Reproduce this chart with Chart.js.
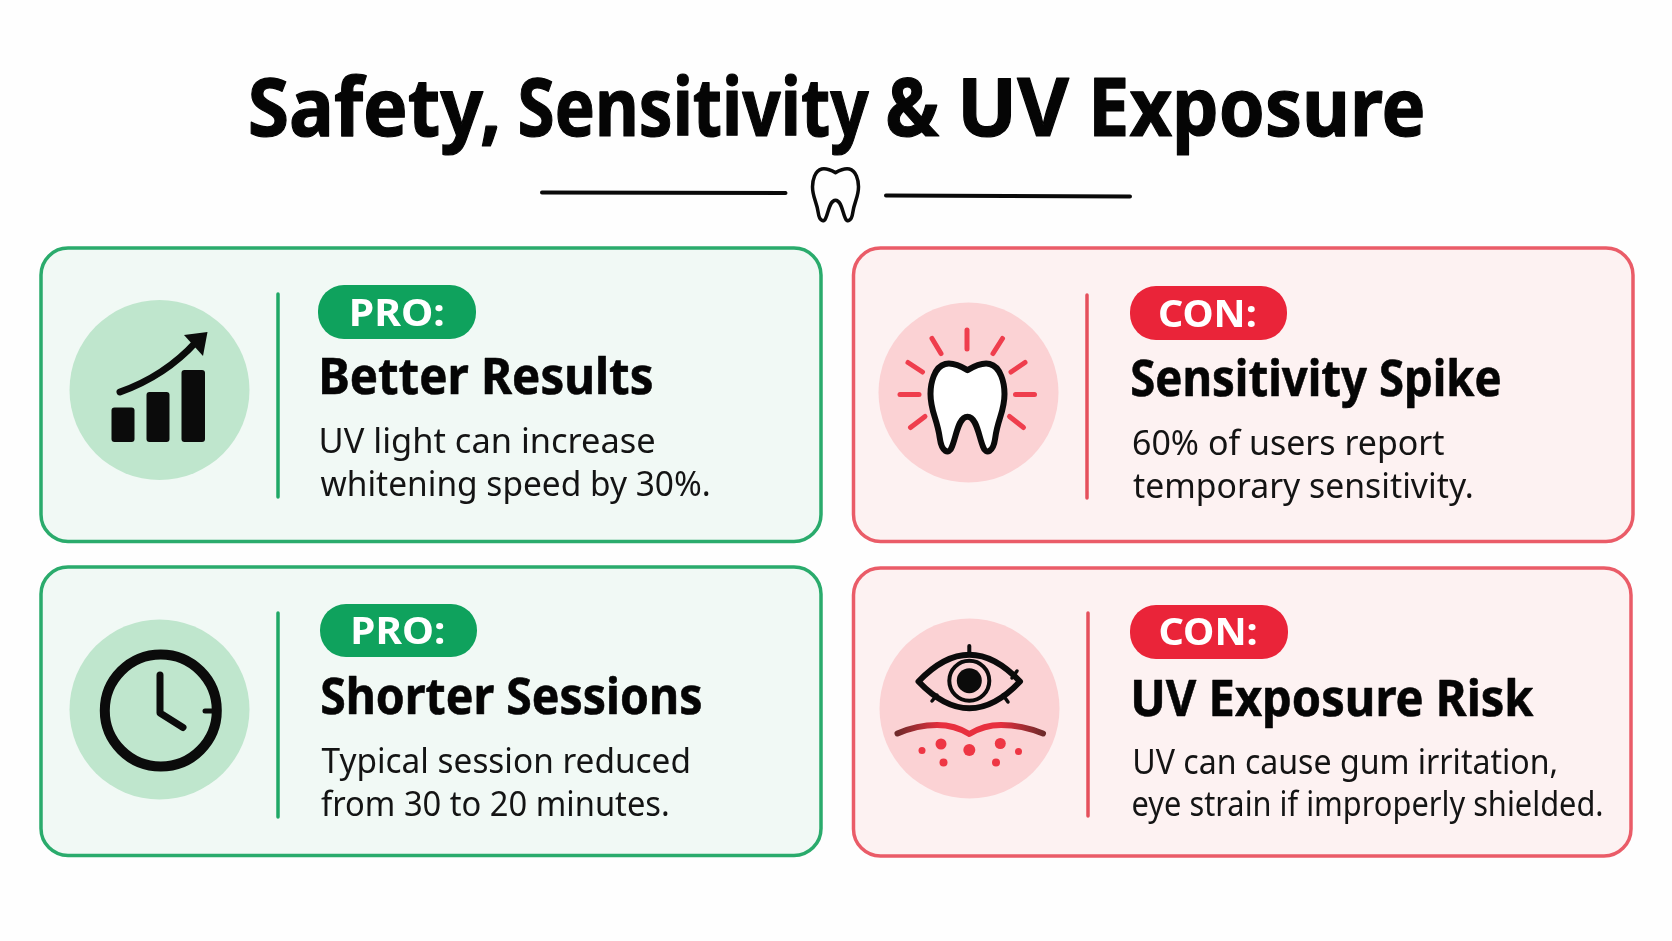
<!DOCTYPE html>
<html>
<head>
<meta charset="utf-8">
<title>Safety, Sensitivity & UV Exposure</title>
<script src="https://cdn.jsdelivr.net/npm/chart.js@4"></script>
<style>
  html, body { margin: 0; padding: 0; background: #fefefe; }
  canvas { display: block; }
</style>
</head>
<body>
<canvas id="infoChart" width="1672" height="941"></canvas>
<script>
// Content
const titleWords = ['Safety,', 'Sensitivity', '&', 'UV', 'Exposure'];
const badges = ['PRO:', 'CON:', 'PRO:', 'CON:'];
const headings = ['Better Results', 'Sensitivity Spike', 'Shorter Sessions', 'UV Exposure Risk'];
const speedGainPct = 30;
const usersReportingPct = 60;
const sessionMinutes = [30, 20];
const bodyLines = [
    ['UV light can increase', `whitening speed by ${speedGainPct}%.`],
    [`${usersReportingPct}% of users report`, 'temporary sensitivity.'],
    ['Typical session reduced', `from ${sessionMinutes[0]} to ${sessionMinutes[1]} minutes.`],
    ['UV can cause gum irritation,', 'eye strain if improperly shielded.']
];

// Layout, one entry per card
const GREEN = { stroke: '#2aab6c', fill: '#f1f9f5', disc: '#bfe6cd', badge: '#0fa25d', rule: '#1fa866' };
const RED = { stroke: '#ea5c68', fill: '#fdf2f2', disc: '#fbd2d4', badge: '#ea2439', rule: '#e5505c' };
const cardStyles = [GREEN, RED, GREEN, RED];
const titleInk = [[250.5, 497], [520, 869], [888, 939], [963, 1069], [1094.5, 1423]];
const cardBoxes = [[41, 248, 821, 541.5], [853.5, 248, 1633, 541.5], [41, 567, 821, 855.5], [853.5, 568, 1631, 856]];
const discCenters = [[159.5, 390], [968.5, 392.5], [159.5, 709.5], [969.5, 708.5]];
const ruleLines = [[278, 294, 497], [1087, 295, 498], [278, 613, 817], [1088, 613, 816]];
const badgeBoxes = [[318, 285, 476, 339], [1130, 286, 1287, 340], [320, 604, 477, 657], [1130, 605, 1288, 659]];
const badgeInk = [[352, 443, 325.5], [1160, 1255, 326.5], [353.5, 443.5, 644], [1160.5, 1256, 645]];
const headingInk = [[322, 651.5, 394], [1132, 1500, 395.5], [322, 700.5, 713.5], [1134, 1533.5, 715.5]];
const bodyInk = [
    [[321.5, 654, 452.5], [320.5, 708.5, 495.5]],
    [[1133, 1444, 454.5], [1133, 1471.5, 497.5]],
    [[321.5, 688.5, 773], [321, 667.5, 816]],
    [[1135, 1556, 774], [1132.5, 1601.5, 816]]
];

const SANS = '"Noto Sans", "Open Sans", sans-serif';

// squeeze or stretch text so its ink spans x0..x1
function fitText(ctx, text, x0, x1, baseline, font, color, boldWidth) {
    ctx.save();
    ctx.font = font;
    ctx.fillStyle = color;
    ctx.textAlign = 'left';
    ctx.textBaseline = 'alphabetic';
    const m = ctx.measureText(text);
    const sx = (x1 - x0) / (m.actualBoundingBoxLeft + m.actualBoundingBoxRight);
    ctx.translate(x0 + m.actualBoundingBoxLeft * sx, baseline);
    ctx.scale(sx, 1);
    ctx.fillText(text, 0, 0);
    if (boldWidth) {
        ctx.lineWidth = boldWidth;
        ctx.lineJoin = 'round';
        ctx.strokeStyle = color;
        ctx.strokeText(text, 0, 0);
    }
    ctx.restore();
}

function strokeSegment(ctx, x0, y0, x1, y1, width, color) {
    ctx.beginPath();
    ctx.moveTo(x0, y0);
    ctx.lineTo(x1, y1);
    ctx.lineWidth = width;
    ctx.strokeStyle = color;
    ctx.lineCap = 'round';
    ctx.stroke();
}

// tooth outline, cx = centre, halfW = half width, top + height in pixels
function toothPath(ctx, cx, top, halfW, height) {
    const X = v => cx + v * halfW;
    const Y = v => top + v * height;
    const curve = (a, b, c, d, e, f) => ctx.bezierCurveTo(X(a), Y(b), X(c), Y(d), X(e), Y(f));
    ctx.beginPath();
    ctx.moveTo(X(0), Y(0.07));
    curve(-0.2, 0.02, -0.4, -0.02, -0.6, 0);
    curve(-0.9, 0.03, -1, 0.22, -1, 0.34);
    curve(-1, 0.54, -0.82, 0.62, -0.75, 0.84);
    curve(-0.7, 1.0, -0.5, 1.04, -0.42, 0.94);
    curve(-0.3, 0.82, -0.25, 0.6, 0, 0.6);
    curve(0.25, 0.6, 0.3, 0.82, 0.42, 0.94);
    curve(0.5, 1.04, 0.7, 1.0, 0.75, 0.84);
    curve(0.82, 0.62, 1, 0.54, 1, 0.34);
    curve(1, 0.22, 0.9, 0.03, 0.6, 0);
    curve(0.4, -0.02, 0.2, 0.02, 0, 0.07);
    ctx.closePath();
}

function drawBarsIcon(ctx) {
    ctx.fillStyle = '#0b0b0b';
    [[111.5, 407.5, 23, 34.5], [146.5, 392, 23, 50], [181.5, 370, 23.5, 72]].forEach(b => {
        ctx.beginPath();
        ctx.roundRect(b[0], b[1], b[2], b[3], 3);
        ctx.fill();
    });
    ctx.beginPath();
    ctx.moveTo(120, 392);
    ctx.quadraticCurveTo(165, 376, 196, 342);
    ctx.lineWidth = 7;
    ctx.lineCap = 'round';
    ctx.strokeStyle = '#0b0b0b';
    ctx.stroke();
    ctx.beginPath();
    ctx.moveTo(184, 335);
    ctx.lineTo(207.5, 332);
    ctx.lineTo(203, 356);
    ctx.closePath();
    ctx.fill();
}

function drawSensitiveTooth(ctx) {
    [[967, 330, 967, 349], [932, 338.5, 941, 353.5], [1002.5, 338.5, 993, 353.5],
     [908, 362.5, 922.5, 372], [1025, 362.5, 1011, 372], [900, 394.5, 919, 394.5],
     [1015.5, 394.5, 1034.5, 394.5], [910.5, 427.5, 925, 416.5], [1023.5, 427.5, 1009.5, 416.5]
    ].forEach(r => strokeSegment(ctx, r[0], r[1], r[2], r[3], 5, '#ef3e4d'));
    toothPath(ctx, 967.5, 364, 37, 88);
    ctx.fillStyle = '#ffffff';
    ctx.fill();
    ctx.lineWidth = 6;
    ctx.lineJoin = 'round';
    ctx.strokeStyle = '#0b0b0b';
    ctx.stroke();
}

function drawClockIcon(ctx) {
    ctx.beginPath();
    ctx.arc(160.8, 710.5, 56, 0, Math.PI * 2);
    ctx.lineWidth = 10;
    ctx.strokeStyle = '#0b0b0b';
    ctx.stroke();
    ctx.beginPath();
    ctx.moveTo(160, 675);
    ctx.lineTo(160, 713);
    ctx.lineTo(183, 727.5);
    ctx.lineWidth = 7;
    ctx.lineCap = 'round';
    ctx.lineJoin = 'round';
    ctx.stroke();
    strokeSegment(ctx, 205, 711, 212, 711, 5, '#0b0b0b');
}

function drawEyeIcon(ctx) {
    const ink = '#0b0b0b';
    ctx.beginPath();
    ctx.moveTo(918.5, 681.5);
    ctx.quadraticCurveTo(969.5, 628, 1020, 681.5);
    ctx.quadraticCurveTo(969.5, 735, 918.5, 681.5);
    ctx.closePath();
    ctx.lineWidth = 6;
    ctx.lineJoin = 'round';
    ctx.strokeStyle = ink;
    ctx.stroke();
    ctx.beginPath();
    ctx.arc(969.3, 680.7, 20, 0, Math.PI * 2);
    ctx.lineWidth = 4;
    ctx.stroke();
    ctx.beginPath();
    ctx.arc(969.3, 680.7, 12.5, 0, Math.PI * 2);
    ctx.fillStyle = ink;
    ctx.fill();
    strokeSegment(ctx, 969.3, 646, 969.3, 655, 4, ink);
    strokeSegment(ctx, 1017, 671, 1012, 678, 3.5, ink);
    strokeSegment(ctx, 1008, 702, 1003, 695, 3.5, ink);
    strokeSegment(ctx, 932, 701, 937, 695, 3.5, ink);

    const gum = ctx.createLinearGradient(897, 0, 1043, 0);
    gum.addColorStop(0, '#6f2a2a');
    gum.addColorStop(0.3, '#e8303f');
    gum.addColorStop(0.7, '#e8303f');
    gum.addColorStop(1, '#6f2a2a');
    ctx.beginPath();
    ctx.moveTo(897.5, 733.5);
    ctx.quadraticCurveTo(917, 725, 937, 725);
    ctx.quadraticCurveTo(955, 725, 969.3, 734);
    ctx.quadraticCurveTo(984, 725, 1001, 725);
    ctx.quadraticCurveTo(1022, 725, 1043, 733.5);
    ctx.lineWidth = 6;
    ctx.lineCap = 'round';
    ctx.strokeStyle = gum;
    ctx.stroke();

    ctx.fillStyle = '#ee3644';
    [[941, 744, 5.5], [969.3, 750, 6], [1000.3, 743.5, 5.5], [922, 750.5, 3.5],
     [1018.5, 751.5, 3.5], [943.5, 762.5, 4], [996, 762.5, 4]].forEach(d => {
        ctx.beginPath();
        ctx.arc(d[0], d[1], d[2], 0, Math.PI * 2);
        ctx.fill();
    });
}

const iconDrawers = [drawBarsIcon, drawSensitiveTooth, drawClockIcon, drawEyeIcon];

// cards go under the dataset discs
const cardsPlugin = {
    id: 'cards',
    beforeDatasetsDraw(chart) {
        const ctx = chart.ctx;
        ctx.save();
        cardBoxes.forEach((b, i) => {
            ctx.beginPath();
            ctx.roundRect(b[0], b[1], b[2] - b[0], b[3] - b[1], 27);
            ctx.fillStyle = cardStyles[i].fill;
            ctx.fill();
            ctx.lineWidth = 3.5;
            ctx.strokeStyle = cardStyles[i].stroke;
            ctx.stroke();
        });
        ctx.restore();
    },
    afterDatasetsDraw(chart) {
        const ctx = chart.ctx;
        ctx.save();

        // title and divider
        titleWords.forEach((word, i) => {
            fitText(ctx, word, titleInk[i][0], titleInk[i][1], 136, 'bold 80px ' + SANS, '#050505', 1.2);
        });
        strokeSegment(ctx, 542, 192.5, 785.5, 193, 4, '#0a0a0a');
        strokeSegment(ctx, 886, 195.5, 1130, 196.5, 4, '#0a0a0a');
        toothPath(ctx, 835.5, 169, 23, 52);
        ctx.lineWidth = 3.5;
        ctx.lineJoin = 'round';
        ctx.strokeStyle = '#0a0a0a';
        ctx.stroke();

        cardBoxes.forEach((b, i) => {
            const s = cardStyles[i];
            const r = ruleLines[i];
            strokeSegment(ctx, r[0], r[1], r[0], r[2], 3.5, s.rule);

            const bb = badgeBoxes[i];
            ctx.beginPath();
            ctx.roundRect(bb[0], bb[1], bb[2] - bb[0], bb[3] - bb[1], 26);
            ctx.fillStyle = s.badge;
            ctx.fill();
            const bi = badgeInk[i];
            fitText(ctx, badges[i], bi[0], bi[1], bi[2], 'bold 38px ' + SANS, '#ffffff');

            const h = headingInk[i];
            fitText(ctx, headings[i], h[0], h[1], h[2], 'bold 50px ' + SANS, '#050505', 0.6);

            bodyLines[i].forEach((line, j) => {
                const k = bodyInk[i][j];
                fitText(ctx, line, k[0], k[1], k[2], '35px ' + SANS, '#141414');
            });

            iconDrawers[i](ctx);
        });
        ctx.restore();
    }
};

new Chart(document.getElementById('infoChart').getContext('2d'), {
    type: 'bubble',
    data: {
        datasets: [{
            label: 'Icon discs',
            data: discCenters.map(c => ({ x: c[0], y: c[1], r: 90 })),
            backgroundColor: cardStyles.map(s => s.disc),
            borderWidth: 0,
            clip: false
        }]
    },
    options: {
        responsive: false,
        animation: false,
        devicePixelRatio: 1,
        layout: { padding: 0, autoPadding: false },
        events: [],
        scales: {
            x: { type: 'linear', min: 0, max: 1672, display: false },
            y: { type: 'linear', min: 0, max: 941, reverse: true, display: false }
        },
        plugins: { legend: { display: false }, tooltip: { enabled: false } }
    },
    plugins: [cardsPlugin]
});
</script>
</body>
</html>
